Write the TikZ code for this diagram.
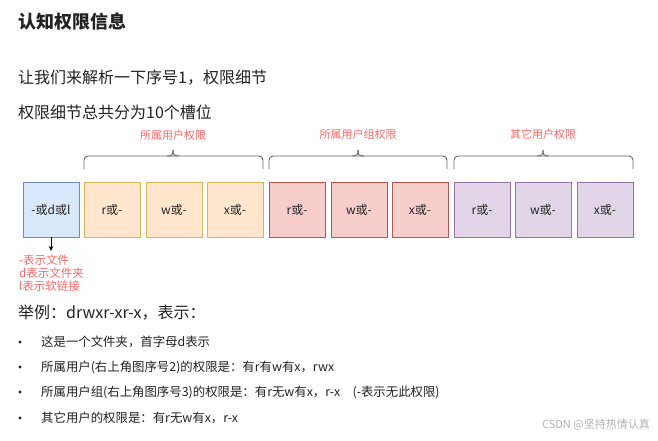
\documentclass[tikz,border=0pt]{standalone}
\usepackage{fontspec}
\setmainfont{Noto Sans CJK SC}
\usetikzlibrary{arrows.meta}
\definecolor{bluef}{HTML}{DAE8FC}\definecolor{blued}{HTML}{6C8EBF}
\definecolor{orgf}{HTML}{FFE6CC}\definecolor{orgd}{HTML}{D6B656}
\definecolor{redf}{HTML}{F8CECC}\definecolor{redd}{HTML}{B85450}
\definecolor{purf}{HTML}{E1D5E7}\definecolor{purd}{HTML}{9673A6}
\definecolor{lblred}{HTML}{FF6666}
\definecolor{txt}{HTML}{222222}
\tikzset{
  slot/.style={draw, line width=0.8pt, minimum width=56pt, minimum height=55pt, inner sep=0pt, font=\fontsize{12}{14}\selectfont, text=txt},
  bluebox/.style={slot, fill=bluef, draw=blued},
  orgbox/.style={slot, fill=orgf, draw=orgd},
  redbox/.style={slot, fill=redf, draw=redd},
  purbox/.style={slot, fill=purf, draw=purd},
  bracelbl/.style={font=\fontsize{11}{13}\selectfont, text=lblred, inner sep=0pt},
  bracepath/.style={draw=black!60, line width=0.9pt},
  para/.style={anchor=west, inner sep=0pt, text=txt, font=\fontsize{16}{18}\selectfont},
  bul/.style={anchor=west, inner sep=0pt, text=txt, font=\fontsize{12.4}{14}\selectfont},
}
\newcommand{\mybrace}[3]{% xa, xb, mid
  \draw[bracepath, rounded corners=4pt] (#1,169) -- (#1,156) -- (#3-6,156) -- (#3,156);
  \draw[bracepath] (#3-6,156) .. controls (#3-1,156) and (#3,155) .. (#3,150);
  \draw[bracepath] (#3,150) .. controls (#3,155) and (#3+1,156) .. (#3+6,156);
  \draw[bracepath, rounded corners=4pt] (#3,156) -- (#2,156) -- (#2,169);
}
\begin{document}
\begin{tikzpicture}[x=1pt, y=-1pt]
\useasboundingbox (0,0) rectangle (658,440);
\fill[white] (0,0) rectangle (658,440);

\node[anchor=west, inner sep=0pt, text=txt, font=\fontsize{18}{20}\selectfont\bfseries] (title) at (18,22) {认知权限信息};
\node[para] (p1) at (18,78) {让我们来解析一下序号1，权限细节};
\node[para] (p2) at (18,112) {权限细节总共分为10个槽位};

\node[bluebox] (b1) at (51,209.5) {-或d或l};
\node[orgbox] (b2) at (112,209.5) {r或-};
\node[orgbox] (b3) at (174,209.5) {w或-};
\node[orgbox] (b4) at (235,209.5) {x或-};
\node[redbox] (b5) at (297,209.5) {r或-};
\node[redbox] (b6) at (359,209.5) {w或-};
\node[redbox] (b7) at (420,209.5) {x或-};
\node[purbox] (b8) at (482,209.5) {r或-};
\node[purbox] (b9) at (543,209.5) {w或-};
\node[purbox] (b10) at (605,209.5) {x或-};

\mybrace{84}{263}{173}
\mybrace{269}{447}{358}
\mybrace{454}{633}{543}
\node[bracelbl] (l1) at (173,135) {所属用户权限};
\node[bracelbl] (l2) at (358,134) {所属用户组权限};
\node[bracelbl] (l3) at (543,134) {其它用户权限};

\coordinate (arrend) at (51,251);
\draw[line width=0.8pt, -{Stealth[length=5pt,width=4.5pt]}] (b1.south) -- (arrend);
\node[anchor=north west, inner sep=0pt, align=left, text=lblred, font=\fontsize{11.5}{12.6}\selectfont] (note) at (19,255) {-表示文件\\d表示文件夹\\l表示软链接};

\node[para] (p3) at (18,313) {举例：drwxr-xr-x，表示：};
\foreach \yy/\tt [count=\i] in {342/{这是一个文件夹，首字母d表示},367/{所属用户(右上角图序号2)的权限是：有r有w有x，rwx},392/{所属用户组(右上角图序号3)的权限是：有r无w有x，r-x\hspace{1em}(-表示无此权限)},418/{其它用户的权限是：有r无w有x，r-x}}{
  \node[bul] (bt\i) at (41,\yy) {\tt};
  \fill[txt] (20,\yy) circle (1.6pt);
}
\node[anchor=east, inner sep=0pt, text=black!30, font=\fontsize{11}{13}\selectfont] (wm) at (650,425) {CSDN @坚持热情认真};
\end{tikzpicture}
\end{document}
